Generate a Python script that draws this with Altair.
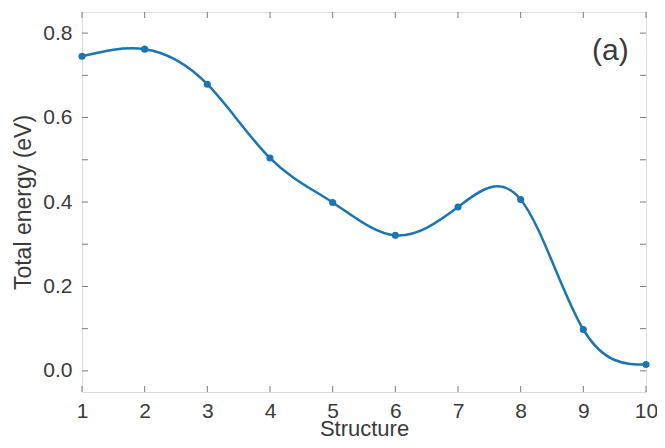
import altair as alt
import pandas as pd

structure = [1, 2, 3, 4, 5, 6, 7, 8, 9, 10]
energy = [0.745, 0.762, 0.679, 0.504, 0.399, 0.321, 0.388, 0.406, 0.098, 0.015]
x_ticks = [1, 2, 3, 4, 5, 6, 7, 8, 9, 10]
y_ticks = [0.0, 0.1, 0.2, 0.3, 0.4, 0.5, 0.6, 0.7, 0.8]
y_labels = [0.0, 0.2, 0.4, 0.6, 0.8]

W, H = 564, 380
LINE = "#1a75b5"
AX = "#7a7a7a"
TXT = "#3a3a3a"
FONT = "Liberation Sans"

df = pd.DataFrame({"s": structure, "e": energy})
xt = pd.DataFrame({"v": x_ticks})
yt = pd.DataFrame({"v": y_ticks})

xs = alt.Scale(domain=[1, 10], nice=False, zero=False)
ys = alt.Scale(domain=[-0.05, 0.85], nice=False, zero=False)

xaxis = alt.Axis(values=x_ticks, format="d", ticks=False, tickSize=0, domain=False, grid=False,
                 labelPadding=8, labelFontSize=21, labelColor=TXT, labelFont=FONT, labelFlush=False,
                 title="Structure", titleFontSize=22, titleFont=FONT, titleColor=TXT,
                 titleFontWeight="normal", titleBaseline="alphabetic", titleY=43)
yaxis = alt.Axis(values=y_labels, format=".1f", ticks=False, tickSize=0, domain=False, grid=False,
                 labelPadding=10, labelFontSize=21, labelColor=TXT, labelFont=FONT, labelFlush=False,
                 title="Total energy (eV)", titleFontSize=23, titleFont=FONT, titleColor=TXT,
                 titleFontWeight="normal", titleBaseline="alphabetic", titleX=-52)

line = alt.Chart(df).mark_line(interpolate="natural", color=LINE, strokeWidth=2.5).encode(
    x=alt.X("s:Q", scale=xs, axis=xaxis),
    y=alt.Y("e:Q", scale=ys, axis=yaxis),
)
pts = alt.Chart(df).mark_circle(color=LINE, size=50, opacity=1).encode(
    x=alt.X("s:Q", scale=xs),
    y=alt.Y("e:Q", scale=ys),
)

tick_len = 6
xb = alt.Chart(xt).mark_rule(color=AX, strokeWidth=1).encode(
    x=alt.X("v:Q", scale=xs), y=alt.value(H), y2=alt.value(H - tick_len))
xtp = alt.Chart(xt).mark_rule(color=AX, strokeWidth=1).encode(
    x=alt.X("v:Q", scale=xs), y=alt.value(0), y2=alt.value(tick_len))
yl = alt.Chart(yt).mark_rule(color=AX, strokeWidth=1).encode(
    y=alt.Y("v:Q", scale=ys), x=alt.value(0), x2=alt.value(tick_len))
yr = alt.Chart(yt).mark_rule(color=AX, strokeWidth=1).encode(
    y=alt.Y("v:Q", scale=ys), x=alt.value(W), x2=alt.value(W - tick_len))

label = alt.Chart(pd.DataFrame({"t": ["(a)"], "x": [9.43], "y": [0.758]})).mark_text(
    fontSize=30, font=FONT, color=TXT, align="center", baseline="middle").encode(
    x=alt.X("x:Q", scale=xs), y=alt.Y("y:Q", scale=ys), text="t:N")

chart = alt.layer(xb, xtp, yl, yr, line, pts, label).properties(
    width=W, height=H,
    autosize=alt.AutoSizeParams(type="none"),
    padding={"left": 74, "top": 4, "right": 11, "bottom": 48},
).configure_view(stroke=AX, strokeWidth=1).configure(background="white")

chart.save("out.html", embed_options={"renderer": "svg", "actions": False})
